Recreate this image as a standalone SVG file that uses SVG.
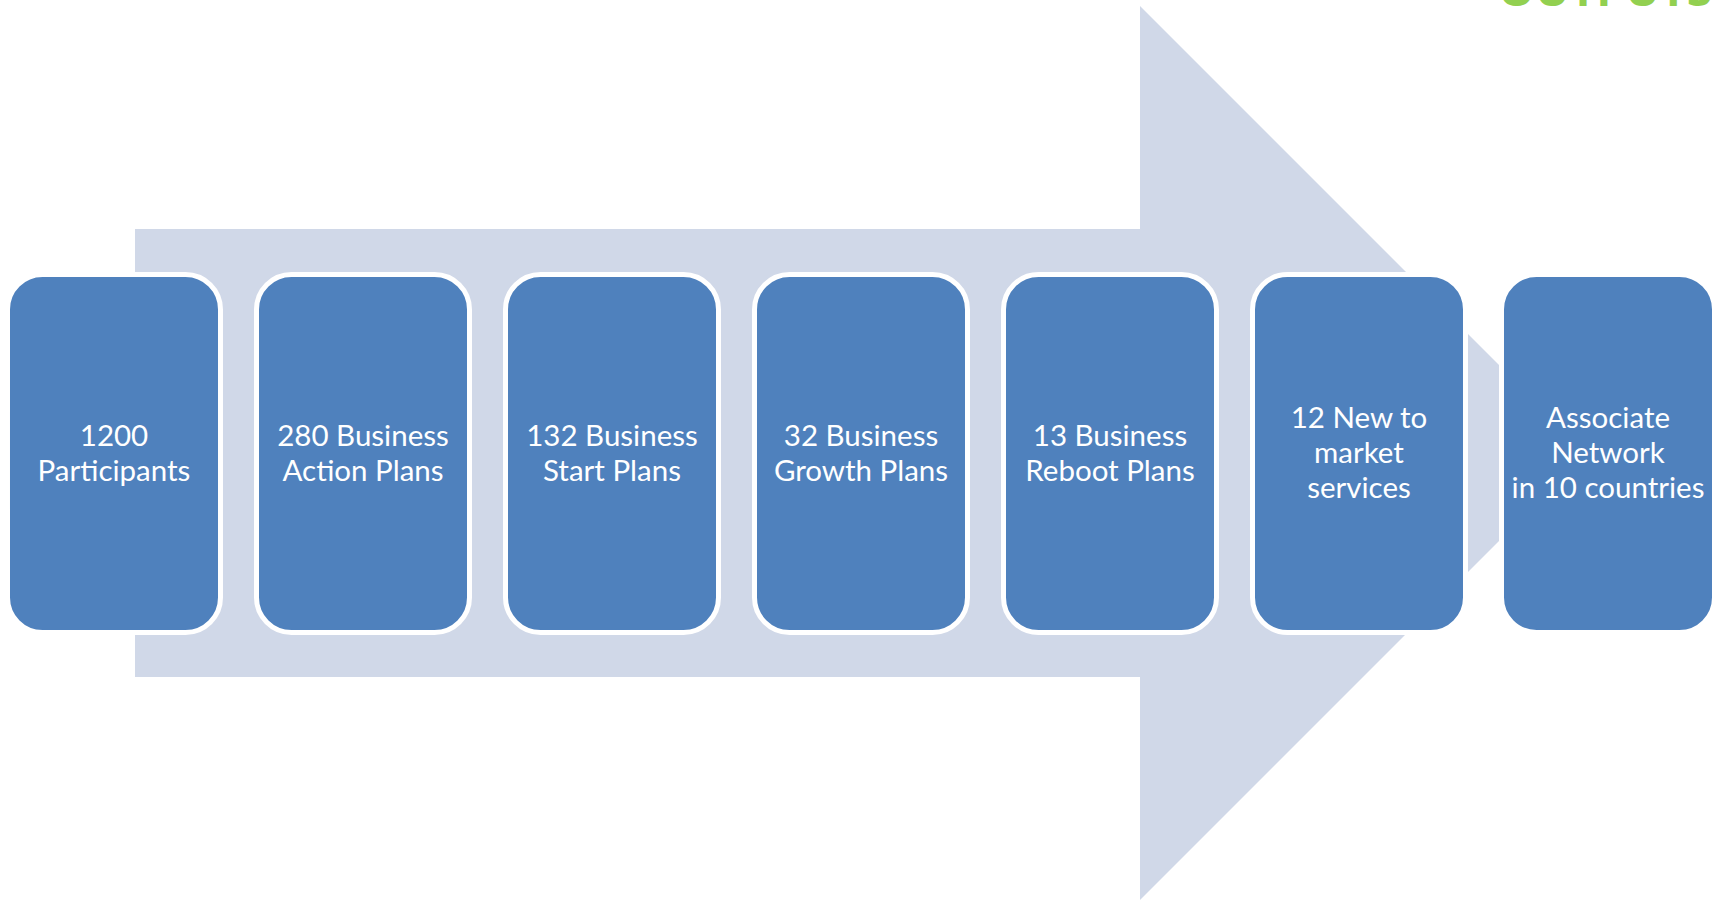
<svg xmlns="http://www.w3.org/2000/svg" width="1719" height="900" viewBox="0 0 1719 900">
<style>
.box{fill:#4F81BD;stroke:#FFFFFF;stroke-width:5}
.lbl{font-family:Lato,"Liberation Sans",sans-serif;font-size:29.5px;fill:#FFFFFF;text-anchor:middle}
.title{font-family:"Open Sans","Liberation Sans",sans-serif;font-weight:bold;font-size:46px;fill:#92D050;text-anchor:end}
</style>
<rect width="1719" height="900" fill="#FFFFFF"/>
<text class="title" x="1712" y="6">OUTPUTS</text>
<g id="connectors">
<polygon id="arrow" points="135,229 1140,229 1140,6 1587,453 1140,900 1140,677 135,677" fill="#D0D8E8"/>
</g>
<g id="node1"><rect class="box" x="7.5" y="274.5" width="213" height="358" rx="35"/><text class="lbl" x="114" y="446">1200</text><text class="lbl" x="114" y="481">Participants</text></g>
<g id="node2"><rect class="box" x="256.5" y="274.5" width="213" height="358" rx="35"/><text class="lbl" x="363" y="446">280 Business</text><text class="lbl" x="363" y="481">Action Plans</text></g>
<g id="node3"><rect class="box" x="505.5" y="274.5" width="213" height="358" rx="35"/><text class="lbl" x="612" y="446">132 Business</text><text class="lbl" x="612" y="481">Start Plans</text></g>
<g id="node4"><rect class="box" x="754.5" y="274.5" width="213" height="358" rx="35"/><text class="lbl" x="861" y="446">32 Business</text><text class="lbl" x="861" y="481">Growth Plans</text></g>
<g id="node5"><rect class="box" x="1003.5" y="274.5" width="213" height="358" rx="35"/><text class="lbl" x="1110" y="446">13 Business</text><text class="lbl" x="1110" y="481">Reboot Plans</text></g>
<g id="node6"><rect class="box" x="1252.5" y="274.5" width="213" height="358" rx="35"/><text class="lbl" x="1359" y="428">12 New to</text><text class="lbl" x="1359" y="463">market</text><text class="lbl" x="1359" y="498">services</text></g>
<g id="node7"><rect class="box" x="1501.5" y="274.5" width="213" height="358" rx="35"/><text class="lbl" x="1608" y="428">Associate</text><text class="lbl" x="1608" y="463">Network</text><text class="lbl" x="1608" y="498">in 10 countries</text></g>
</svg>
